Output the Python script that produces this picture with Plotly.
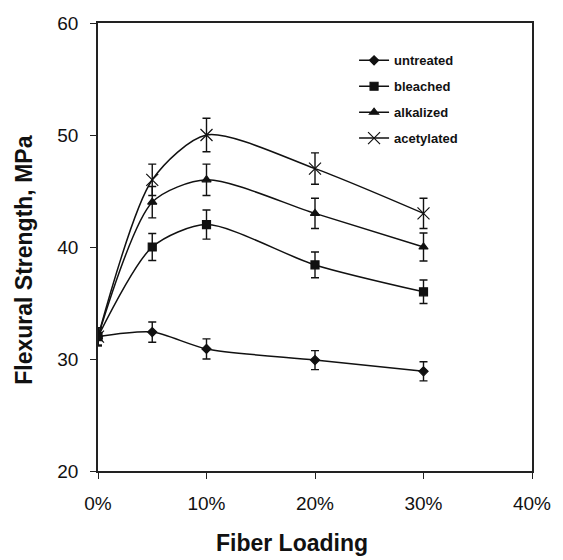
import plotly.graph_objects as go

loading = [0.0, 0.05, 0.10, 0.20, 0.30]

untreated = [32.0, 32.4, 30.9, 29.9, 28.9]
untreated_err = [0.8, 0.9, 0.9, 0.85, 0.85]

bleached = [32.0, 40.0, 42.0, 38.4, 36.0]
bleached_err = [0.8, 1.2, 1.3, 1.15, 1.05]

alkalized = [32.0, 44.0, 46.0, 43.0, 40.0]
alkalized_err = [0.8, 1.4, 1.4, 1.35, 1.25]

acetylated = [32.0, 46.0, 50.0, 47.0, 43.0]
acetylated_err = [0.8, 1.4, 1.5, 1.4, 1.35]

x_title = "Fiber Loading"
y_title = "Flexural Strength, MPa"

series = [
    ("untreated", untreated, untreated_err, "diamond", 7),
    ("bleached", bleached, bleached_err, "square", 8),
    ("alkalized", alkalized, alkalized_err, "triangle-up", 8),
    ("acetylated", acetylated, acetylated_err, "x-thin", 12),
]

fig = go.Figure()
for name, vals, err, sym, size in series:
    fig.add_trace(go.Scatter(
        x=loading, y=vals, name=name, legendgroup=name, mode="lines+markers",
        line=dict(color="#111111", width=1.5, shape="spline", smoothing=0.75),
        marker=dict(symbol=sym, size=size, color="#111111",
                    line=dict(color="#111111", width=1.2)),
        error_y=dict(type="data", array=err, visible=True,
                     color="#111111", thickness=1.4, width=4),
    ))

fig.update_layout(
    width=563, height=560,
    margin=dict(l=98, r=21, t=23, b=89),
    paper_bgcolor="white", plot_bgcolor="white",
    font=dict(family="Liberation Sans, Arial, sans-serif", color="#111111"),
    showlegend=True,
    legend=dict(
        x=0.59, y=0.95, xanchor="left", yanchor="top",
        bgcolor="rgba(0,0,0,0)", borderwidth=0,
        font=dict(size=13, family="Liberation Sans, Arial, sans-serif", weight="bold"),
        tracegroupgap=6, itemwidth=30,
    ),
    xaxis=dict(
        range=[0, 0.40], tickvals=[0, 0.1, 0.2, 0.3, 0.4], tickformat=".0%",
        showgrid=False, zeroline=False,
        showline=True, linecolor="#222222", linewidth=1.5, mirror=True,
        ticks="outside", ticklen=6, tickwidth=1.3, tickcolor="#222222",
        tickfont=dict(size=19), ticklabelstandoff=8,
    ),
    yaxis=dict(
        range=[20, 60], tickvals=[20, 30, 40, 50, 60],
        showgrid=False, zeroline=False,
        showline=True, linecolor="#222222", linewidth=1.5, mirror=True,
        ticks="outside", ticklen=6, tickwidth=1.3, tickcolor="#222222",
        tickfont=dict(size=19), ticklabelstandoff=8,
    ),
    annotations=[
        dict(text="<b>" + x_title + "</b>", xref="paper", yref="paper",
             x=0.446, y=-0.161, xanchor="center", yanchor="middle",
             showarrow=False, font=dict(size=23)),
        dict(text="<b>" + y_title + "</b>", xref="paper", yref="paper",
             x=-0.171, y=0.471, xanchor="center", yanchor="middle",
             textangle=-90, showarrow=False, font=dict(size=23)),
    ],
)

fig.write_html("out.html")
